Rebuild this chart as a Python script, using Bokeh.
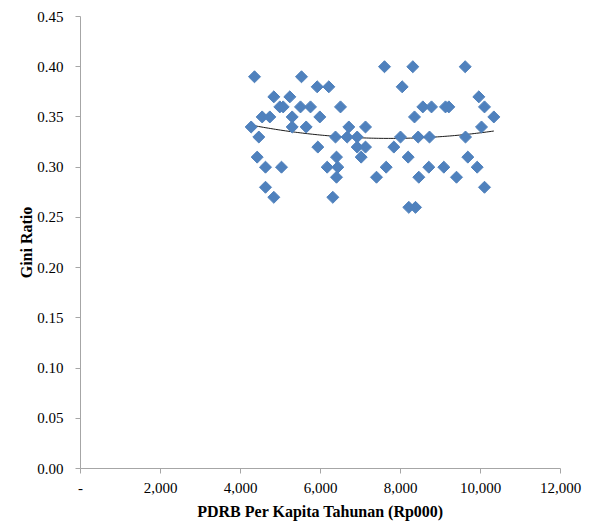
import numpy as np
from bokeh.plotting import figure
from bokeh.models import Range1d, FixedTicker
from bokeh.embed import file_html
from bokeh.resources import INLINE

# PDRB per capita (Rp000) and Gini ratio
pdrb = [4350, 5525, 5917, 6208, 4833, 5233, 4983, 5067, 5500, 5750, 6500,
        4542, 4733, 5292, 5983, 4267, 5292, 5642, 6708, 7125, 4458, 6375,
        6667, 6917, 5933, 6917, 7125, 7017, 4417, 6400, 4625, 5025, 6167,
        6433, 6400, 4625, 4833, 6308,
        7600, 8308, 9617, 8042, 9958, 8558, 8775, 9125, 9208, 10100, 8350,
        10333, 10025, 8000, 8442, 8725, 9625, 7833, 8192, 9683, 7642, 8708,
        9083, 9917, 7400, 8458, 9400, 10100, 8208, 8375]
gini = [0.39, 0.39, 0.38, 0.38, 0.37, 0.37, 0.36, 0.36, 0.36, 0.36, 0.36,
        0.35, 0.35, 0.35, 0.35, 0.34, 0.34, 0.34, 0.34, 0.34, 0.33, 0.33,
        0.33, 0.33, 0.32, 0.32, 0.32, 0.31, 0.31, 0.31, 0.30, 0.30, 0.30,
        0.30, 0.29, 0.28, 0.27, 0.27,
        0.40, 0.40, 0.40, 0.38, 0.37, 0.36, 0.36, 0.36, 0.36, 0.36, 0.35,
        0.35, 0.34, 0.33, 0.33, 0.33, 0.33, 0.32, 0.31, 0.31, 0.30, 0.30,
        0.30, 0.30, 0.29, 0.29, 0.29, 0.28, 0.26, 0.26]

x_ticks = [0, 2000, 4000, 6000, 8000, 10000, 12000]
x_tick_labels = ["-", "2,000", "4,000", "6,000", "8,000", "10,000", "12,000"]
y_ticks = [0.0, 0.05, 0.10, 0.15, 0.20, 0.25, 0.30, 0.35, 0.40, 0.45]
y_tick_labels = ["0.00", "0.05", "0.10", "0.15", "0.20", "0.25", "0.30", "0.35", "0.40", "0.45"]

FONT = "Liberation Serif"

p = figure(width=597, height=524, output_backend="svg", toolbar_location=None,
           x_range=Range1d(0, 12000), y_range=Range1d(0, 0.45),
           min_border_left=80, min_border_right=37, min_border_top=16, min_border_bottom=56)
p.outline_line_color = None
p.xgrid.visible = False
p.ygrid.visible = False

# polynomial (order 2) trend line
coef = np.polyfit(pdrb, gini, 2)
tx = np.linspace(min(pdrb), max(pdrb), 100)
p.line(tx, np.polyval(coef, tx), line_color="#1a1a1a", line_width=1)

p.scatter(pdrb, gini, marker="square", angle=np.pi / 4, size=8.5,
          fill_color="#4F81BD", line_color="#4F81BD")

for ax, ticks, labels in ((p.xaxis[0], x_ticks, x_tick_labels), (p.yaxis[0], y_ticks, y_tick_labels)):
    ax.ticker = FixedTicker(ticks=ticks)
    ax.major_label_overrides = {t: l for t, l in zip(ticks, labels)}
    ax.axis_line_color = "#A6A6A6"
    ax.major_tick_line_color = "#A6A6A6"
    ax.major_tick_out = 5
    ax.major_tick_in = 0
    ax.minor_tick_line_color = None
    ax.major_label_text_font = FONT
    ax.major_label_text_font_size = "15px"
    ax.major_label_text_color = "#000000"
    ax.axis_label_text_font = FONT
    ax.axis_label_text_font_size = "16px"
    ax.axis_label_text_font_style = "bold"
    ax.axis_label_text_color = "#000000"

p.xaxis.axis_label = "PDRB Per Kapita Tahunan (Rp000)"
p.yaxis.axis_label = "Gini Ratio"
p.xaxis.major_label_standoff = 9
p.xaxis.axis_label_standoff = 7
p.yaxis.major_label_standoff = 12
p.yaxis.axis_label_standoff = -1

open("out.html", "w").write(file_html(p, INLINE))
